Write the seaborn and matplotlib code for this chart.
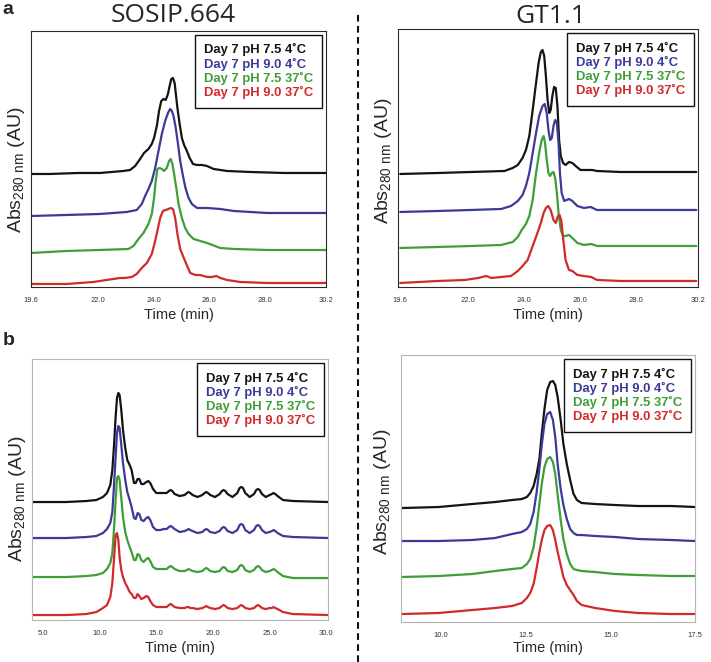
import matplotlib.pyplot as plt
from matplotlib.lines import Line2D
from matplotlib.ticker import MultipleLocator
import pandas as pd
import seaborn as sns

conditions = ["Day 7 pH 7.5 4˚C", "Day 7 pH 9.0 4˚C",
              "Day 7 pH 7.5 37˚C", "Day 7 pH 9.0 37˚C"]
colors = ["#141414", "#3b3a98", "#3f9e38", "#d12a2a"]

# ---- panel a, SOSIP.664 (time in min, stacked absorbance in AU) ----
sosip_a_t_black = [19.60, 20.28, 21.30, 22.08, 22.92, 23.16, 23.34, 23.52, 23.66, 23.82,
                   23.94, 24.02, 24.12, 24.20, 24.28, 24.36, 24.44, 24.52, 24.58, 24.64,
                   24.70, 24.76, 24.80, 24.86, 24.94, 25.02, 25.10, 25.20, 25.30, 25.42,
                   25.56, 25.74, 25.92, 26.16, 26.64, 27.48, 28.68, 30.20]
sosip_a_black = [113, 113, 114, 114, 116, 117, 121, 128, 134, 138,
                 143, 149, 161, 176, 186, 188, 187, 193, 201, 208,
                 209, 204, 194, 179, 163, 149, 142, 136, 129, 123,
                 122, 122, 121, 118, 116, 115, 114, 114]
sosip_a_t_blue = [19.60, 20.88, 22.08, 23.04, 23.40, 23.58, 23.70, 23.82, 23.94, 24.06,
                  24.18, 24.30, 24.42, 24.52, 24.60, 24.66, 24.72, 24.80, 24.88, 24.96,
                  25.06, 25.15, 25.26, 25.38, 25.56, 25.92, 26.40, 26.88, 28.08, 30.20]
sosip_a_blue = [71, 72, 73, 75, 77, 83, 91, 98, 106, 119,
                136, 153, 166, 174, 178, 176, 171, 159, 143, 126,
                111, 99, 89, 83, 79, 79, 78, 76, 74, 74]
sosip_a_t_green = [19.60, 20.88, 22.08, 23.10, 23.28, 23.46, 23.64, 23.82, 23.94, 24.02,
                   24.08, 24.14, 24.22, 24.30, 24.38, 24.48, 24.56, 24.62, 24.68, 24.74,
                   24.82, 24.90, 25.02, 25.14, 25.26, 25.44, 25.68, 25.92, 26.40, 26.88,
                   28.08, 30.20]
sosip_a_green = [34, 36, 37, 38, 41, 48, 54, 63, 73, 89,
                 106, 118, 119, 118, 116, 119, 126, 128, 123, 113,
                 99, 83, 69, 59, 53, 48, 46, 44, 39, 38,
                 37, 37]
sosip_a_t_red = [19.60, 20.88, 21.84, 22.56, 22.80, 22.98, 23.22, 23.40, 23.58, 23.76,
                 23.94, 24.06, 24.14, 24.24, 24.34, 24.44, 24.54, 24.62, 24.70, 24.78,
                 24.86, 24.96, 25.06, 25.18, 25.32, 25.50, 25.68, 25.92, 26.10, 26.26,
                 26.40, 26.64, 27.12, 28.08, 30.20]
sosip_a_red = [3, 3, 5, 8, 9, 9, 10, 13, 19, 24,
               33, 46, 56, 69, 76, 77, 78, 79, 78, 69,
               53, 38, 31, 23, 14, 12, 12, 10, 10, 11,
               9, 7, 5, 4, 4]

# ---- panel a, GT1.1 ----
gt_a_t_black = [19.61, 20.96, 22.14, 23.32, 23.61, 23.79, 23.96, 24.08, 24.20, 24.32,
                24.44, 24.53, 24.61, 24.67, 24.73, 24.79, 24.85, 24.91, 24.96, 25.02,
                25.08, 25.14, 25.20, 25.26, 25.32, 25.40, 25.49, 25.61, 25.73, 25.85,
                26.02, 26.26, 26.44, 26.61, 27.44, 30.14]
gt_a_black = [113, 114, 115, 116, 119, 122, 129, 137, 151, 177,
              204, 224, 235, 237, 231, 211, 187, 174, 177, 191,
              200, 199, 181, 147, 131, 124, 122, 125, 124, 121,
              117, 117, 117, 116, 115, 115]
gt_a_t_blue = [19.61, 20.96, 22.14, 23.20, 23.55, 23.79, 23.96, 24.08, 24.20, 24.32,
               24.44, 24.55, 24.67, 24.75, 24.82, 24.88, 24.94, 25.00, 25.06, 25.12,
               25.18, 25.24, 25.29, 25.35, 25.44, 25.53, 25.61, 25.73, 25.91, 26.14,
               26.38, 26.61, 27.44, 30.14]
gt_a_blue = [75, 76, 77, 78, 81, 86, 92, 101, 114, 134,
             154, 171, 181, 183, 174, 157, 147, 149, 161, 167,
             164, 144, 114, 94, 86, 87, 88, 86, 81, 79,
             80, 77, 77, 77]
gt_a_t_green = [19.61, 20.96, 22.14, 23.20, 23.61, 23.79, 23.93, 24.08, 24.20, 24.32,
                24.44, 24.55, 24.64, 24.71, 24.76, 24.82, 24.88, 24.94, 25.00, 25.06,
                25.12, 25.18, 25.24, 25.32, 25.40, 25.49, 25.61, 25.73, 25.91, 26.14,
                26.40, 26.61, 27.44, 30.14]
gt_a_green = [39, 40, 41, 42, 45, 50, 57, 63, 71, 87,
              114, 134, 147, 151, 144, 127, 114, 111, 114, 115,
              109, 94, 74, 57, 51, 51, 52, 49, 44, 42,
              43, 41, 41, 41]
gt_a_t_red = [19.61, 20.96, 21.91, 22.38, 22.67, 22.85, 23.20, 23.55, 23.79, 23.96,
              24.14, 24.32, 24.49, 24.61, 24.71, 24.79, 24.87, 24.96, 25.06, 25.14,
              25.22, 25.28, 25.34, 25.41, 25.49, 25.61, 25.73, 25.91, 26.14, 26.40,
              26.61, 27.44, 30.14]
gt_a_red = [4, 6, 7, 9, 11, 9, 10, 11, 16, 21,
            27, 41, 54, 64, 74, 79, 81, 77, 67, 64,
            71, 72, 66, 47, 27, 17, 16, 12, 11, 10,
            7, 6, 6]

# ---- panel b, SOSIP.664 (one time grid for all four runs) ----
sosip_b_t = [4.03, 7.06, 8.82, 9.71, 10.29, 10.65, 10.94, 11.12, 11.26, 11.41,
             11.53, 11.65, 11.76, 11.91, 12.06, 12.26, 12.44, 12.65, 12.82, 13.03,
             13.18, 13.35, 13.50, 13.68, 13.88, 14.12, 14.29, 14.47, 14.71, 15.00,
             15.35, 15.65, 15.91, 16.11, 16.26, 16.41, 16.61, 17.06, 17.50, 17.70,
             17.85, 18.00, 18.20, 18.63, 19.06, 19.26, 19.41, 19.56, 19.76, 20.18,
             20.59, 20.79, 20.94, 21.09, 21.29, 21.72, 22.15, 22.35, 22.50, 22.65,
             22.85, 23.24, 23.62, 23.82, 23.97, 24.12, 24.32, 24.66, 25.00, 25.20,
             25.35, 25.50, 25.70, 26.18, 27.06, 30.15]
sosip_b_black = [118, 118, 119, 120, 123, 127, 135, 150, 173, 203,
                 222, 227, 225, 210, 190, 172, 160, 155, 150, 137,
                 137, 141, 141, 136, 136, 138, 139, 137, 131, 127,
                 127, 127, 127, 129, 130, 129, 126, 124, 125, 127,
                 128, 127, 125, 123, 125, 127, 128, 127, 125, 123,
                 126, 129, 130, 129, 126, 123, 127, 132, 133, 132,
                 127, 123, 126, 130, 131, 130, 126, 123, 125, 126,
                 127, 126, 124, 120, 119, 118]
sosip_b_blue = [82, 82, 83, 84, 87, 91, 97, 108, 133, 163,
                187, 194, 192, 175, 157, 140, 128, 120, 113, 102,
                101, 107, 106, 100, 99, 102, 103, 100, 93, 90,
                90, 91, 91, 93, 94, 93, 91, 88, 89, 90,
                91, 90, 89, 87, 88, 90, 91, 90, 88, 87,
                89, 92, 93, 92, 89, 87, 90, 95, 96, 95,
                90, 87, 90, 94, 95, 94, 90, 87, 88, 89,
                90, 89, 87, 84, 83, 82]
sosip_b_green = [43, 43, 44, 45, 47, 51, 57, 67, 90, 120,
                 142, 144, 140, 122, 103, 88, 80, 73, 68, 60,
                 60, 66, 65, 60, 58, 61, 62, 59, 53, 51,
                 51, 51, 51, 53, 54, 53, 51, 49, 49, 50,
                 51, 50, 49, 48, 49, 51, 52, 51, 49, 48,
                 49, 52, 53, 52, 49, 48, 50, 54, 55, 54,
                 50, 48, 50, 53, 54, 53, 50, 48, 49, 50,
                 51, 50, 48, 44, 42, 42]
sosip_b_red = [5, 5, 6, 8, 12, 15, 23, 37, 60, 85,
               87, 80, 63, 50, 43, 37, 33, 28, 26, 22,
               22, 26, 24, 21, 22, 24, 23, 19, 15, 13,
               13, 13, 13, 15, 16, 15, 13, 12, 12, 13,
               13, 12, 12, 11, 12, 13, 14, 13, 12, 11,
               12, 14, 15, 14, 12, 11, 12, 14, 15, 14,
               12, 11, 12, 14, 15, 14, 12, 11, 12, 12,
               13, 12, 11, 8, 6, 5]

# ---- panel b, GT1.1 ----
gt_b_t = [8.84, 9.92, 10.91, 11.59, 12.09, 12.38, 12.53, 12.63, 12.73, 12.82,
          12.90, 12.97, 13.05, 13.13, 13.22, 13.30, 13.37, 13.44, 13.53, 13.61,
          13.71, 13.81, 13.91, 14.01, 14.15, 14.55, 15.14, 15.83, 16.81, 17.50]
gt_b_black = [114, 115, 118, 120, 122, 123, 125, 129, 136, 148,
              163, 188, 213, 232, 240, 241, 237, 225, 202, 178,
              158, 142, 128, 122, 119, 118, 117, 116, 116, 115]
gt_b_blue = [81, 81, 82, 84, 88, 90, 93, 98, 110, 130,
             153, 177, 198, 208, 210, 202, 185, 158, 133, 117,
             103, 93, 89, 87, 87, 86, 85, 83, 82, 81]
gt_b_green = [45, 46, 48, 51, 53, 54, 58, 63, 75, 95,
              118, 138, 155, 163, 165, 160, 148, 127, 102, 83,
              68, 58, 53, 52, 51, 50, 48, 47, 46, 46]
gt_b_red = [8, 9, 12, 14, 16, 19, 24, 29, 38, 54,
            70, 82, 92, 96, 97, 92, 82, 70, 57, 45,
            37, 32, 27, 21, 17, 14, 11, 9, 8, 8]


def long_frame(times, traces):
    parts = []
    for cond, t, y in zip(conditions, times, traces):
        parts.append(pd.DataFrame({"time": t, "abs": y, "condition": cond}))
    return pd.concat(parts, ignore_index=True)


def draw_panel(ax, df, xlim, ylim, ticks, minor, frame_color, tick_color):
    sns.lineplot(data=df, x="time", y="abs", hue="condition", hue_order=conditions,
                 palette=colors, estimator=None, sort=False, lw=1.6, ax=ax)
    ax.set_xlim(*xlim)
    ax.set_ylim(*ylim)
    ax.set_xticks(ticks, [f"{t:.1f}" for t in ticks])
    ax.xaxis.set_minor_locator(MultipleLocator(minor))
    ax.set_yticks([])
    ax.tick_params(axis="x", which="both", direction="out", length=4.5, width=0.7,
                   color=tick_color, labelsize=5.5, labelcolor="#333333", pad=3)
    ax.tick_params(axis="x", which="minor", length=3.5)
    for sp in ax.spines.values():
        sp.set_visible(True)
        sp.set_color(frame_color)
        sp.set_linewidth(0.8)
    ax.set_xlabel("Time (min)", fontsize=10.5)
    ax.set_ylabel(r"Abs$_{280\ nm}$ (AU)", fontsize=14)
    handles, labels = ax.get_legend_handles_labels()
    leg = ax.legend(handles, labels, loc="upper right", bbox_to_anchor=(0.987, 0.986),
                    borderaxespad=0, handlelength=0, handletextpad=0, labelcolor=colors,
                    prop={"weight": "bold", "size": 9.4}, labelspacing=0.08,
                    borderpad=0.68, fancybox=False, framealpha=1, edgecolor="#111111")
    leg.get_frame().set_linewidth(1.0)
    for h in leg.legend_handles:
        h.set_visible(False)


sns.set_style("white")
plt.rcParams["font.family"] = ["Liberation Sans", "DejaVu Sans"]
plt.rcParams["mathtext.default"] = "regular"

fig = plt.figure(figsize=(7.11, 6.62), dpi=100)
ax1 = fig.add_axes([0.0436, 0.5665, 0.415, 0.3867])
ax2 = fig.add_axes([0.5598, 0.5665, 0.4219, 0.3897])
ax3 = fig.add_axes([0.0450, 0.0634, 0.4163, 0.3943])
ax4 = fig.add_axes([0.5640, 0.0604, 0.4135, 0.4033])

draw_panel(ax1, long_frame([sosip_a_t_black, sosip_a_t_blue, sosip_a_t_green, sosip_a_t_red],
                           [sosip_a_black, sosip_a_blue, sosip_a_green, sosip_a_red]),
           (19.6, 30.2), (0, 256), [19.6, 22.0, 24.0, 26.0, 28.0, 30.2], 0.5,
           "#2a2a2a", "#2a2a2a")
draw_panel(ax2, long_frame([gt_a_t_black, gt_a_t_blue, gt_a_t_green, gt_a_t_red],
                           [gt_a_black, gt_a_blue, gt_a_green, gt_a_red]),
           (19.53, 30.2), (0, 258), [19.6, 22.0, 24.0, 26.0, 28.0, 30.2], 0.5,
           "#2a2a2a", "#2a2a2a")
draw_panel(ax3, long_frame([sosip_b_t] * 4,
                           [sosip_b_black, sosip_b_blue, sosip_b_green, sosip_b_red]),
           (4.03, 30.15), (0, 261), [5.0, 10.0, 15.0, 20.0, 25.0, 30.0], 1.0,
           "#b5b5b5", "#9a9a9a")
draw_panel(ax4, long_frame([gt_b_t] * 4,
                           [gt_b_black, gt_b_blue, gt_b_green, gt_b_red]),
           (8.81, 17.5), (0, 267), [10.0, 12.5, 15.0, 17.5], 0.5,
           "#b5b5b5", "#9a9a9a")

ax1.yaxis.set_label_coords(-0.013, 0.46)
ax2.yaxis.set_label_coords(-0.012, 0.49)
ax3.yaxis.set_label_coords(-0.013, 0.465)
ax4.yaxis.set_label_coords(-0.027, 0.49)
ax1.xaxis.set_label_coords(0.5, -0.082)
ax2.xaxis.set_label_coords(0.5, -0.082)
ax3.xaxis.set_label_coords(0.5, -0.08)
ax4.xaxis.set_label_coords(0.5, -0.072)

fig.text(0.243, 0.976, "SOSIP.664", ha="center", va="center", fontsize=19,
         family="Open Sans")
fig.text(0.774, 0.975, "GT1.1", ha="center", va="center", fontsize=19,
         family="Open Sans")
fig.text(0.004, 0.985, "a", ha="left", va="center", fontsize=14, weight="bold")
fig.text(0.004, 0.486, "b", ha="left", va="center", fontsize=14, weight="bold")

fig.add_artist(Line2D([0.5035, 0.5035], [0.0, 0.98], transform=fig.transFigure,
                      color="#111111", lw=1.5, linestyle=(0, (3.2, 2.1))))

fig.savefig("out.png", dpi=100)
